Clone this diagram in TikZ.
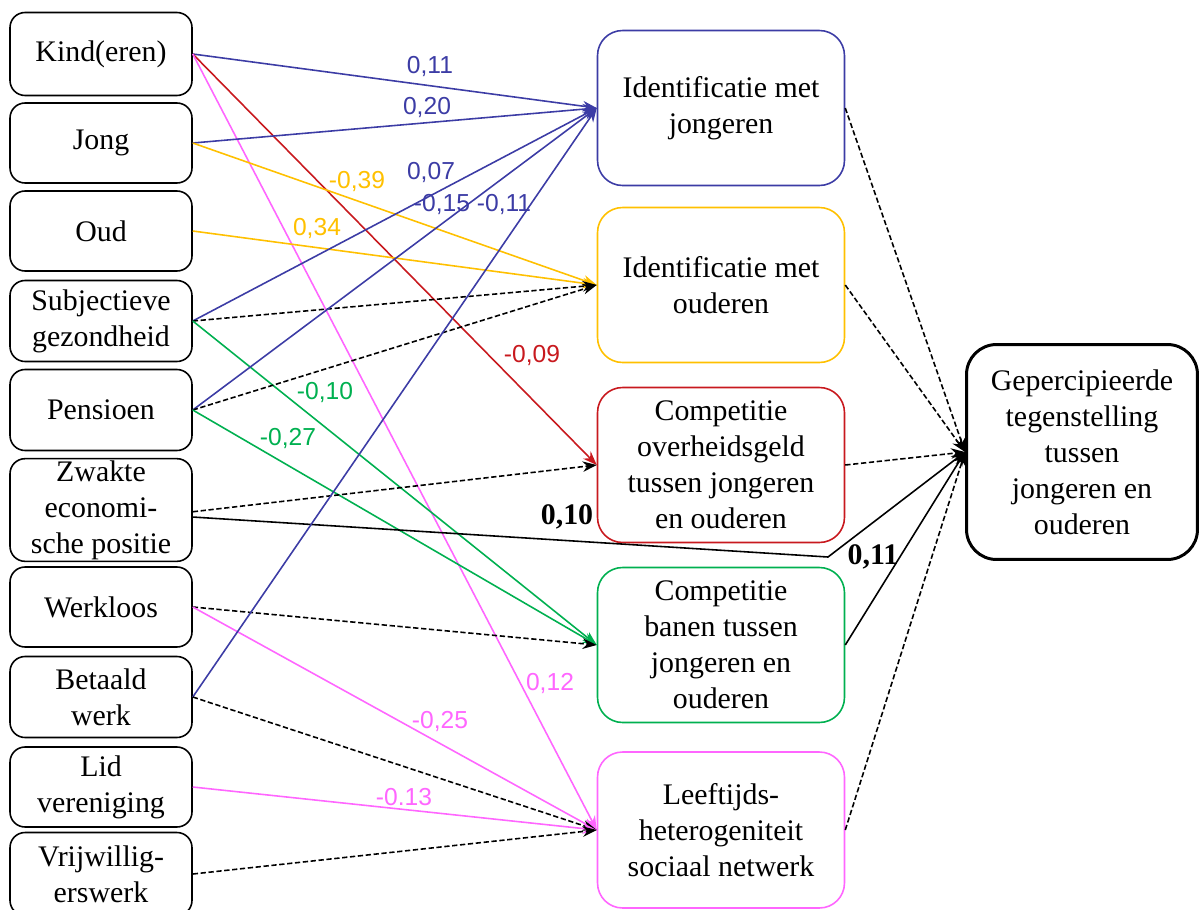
\documentclass[tikz,border=0pt]{standalone}
\usepackage{fontspec}
\setmainfont{Liberation Serif}
\newfontfamily\lblfont{Liberation Sans}
\usetikzlibrary{arrows.meta}
\definecolor{blauw}{RGB}{60,60,165}
\definecolor{geel}{RGB}{255,192,0}
\definecolor{rood}{RGB}{200,25,30}
\definecolor{groen}{RGB}{0,176,80}
\definecolor{roze}{RGB}{255,102,255}
\begin{document}
\begin{tikzpicture}[x=0.02cm,y=-0.02cm,
    every node/.style={font=\fontsize{17}{20.5}\selectfont},
    vak/.style={draw,line width=0.9pt,rounded corners=0.3cm,minimum width=3.64cm,minimum height=1.62cm,align=center,inner sep=1pt},
    midvak/.style={draw,line width=0.9pt,rounded corners=0.5cm,minimum width=4.94cm,minimum height=3.1cm,align=center},
    pijl/.style={-{Stealth[length=8pt,width=6pt]},line width=0.9pt},
    stip/.style={pijl,dash pattern=on 3pt off 1.5pt},
    lbl/.style={font=\lblfont\fontsize{14}{16}\selectfont,inner sep=0pt},
    vet/.style={font=\bfseries\fontsize{17}{20}\selectfont,inner sep=0pt}]
  \useasboundingbox (0,0) rectangle (1201,910);
  \node[vak,minimum height=1.66cm] (kind) at (101,54) {Kind(eren)};
  \node[vak,minimum height=1.6cm] (jong) at (101,143) {Jong};
  \node[vak,minimum height=1.6cm] (oud) at (101,231) {Oud};
  \node[vak] (subj) at (101,321) {Subjectieve\\gezondheid};
  \node[vak] (pens) at (101,410) {Pensioen};
  \node[vak,minimum height=2cm] (zwak) at (101,510) {Zwakte\\economi-\\sche positie};
  \node[vak,minimum height=1.6cm] (werk) at (101,607) {Werkloos};
  \node[vak] (betaald) at (101,697) {Betaald\\werk};
  \node[vak,minimum height=1.6cm] (lid) at (101,787) {Lid\\vereniging};
  \node[vak,minimum height=1.66cm] (vrij) at (101,874) {Vrijwillig-\\erswerk};
  \node[midvak,draw=blauw] (ij) at (721,108) {Identificatie met\\jongeren};
  \node[midvak,draw=geel] (io) at (721,285) {Identificatie met\\ouderen};
  \node[midvak,draw=rood] (cog) at (721,465) {Competitie\\overheidsgeld\\tussen jongeren\\en ouderen};
  \node[midvak,draw=groen] (cba) at (721,645) {Competitie\\banen tussen\\jongeren en\\ouderen};
  \node[midvak,draw=roze,minimum height=3.12cm] (lft) at (721,830) {Leeftijds-\\heterogeniteit\\sociaal netwerk};
  \node[draw,line width=1.7pt,rounded corners=0.6cm,minimum width=4.62cm,minimum height=4.3cm,align=center] (gep) at (1082,452) {Gepercipieerde\\tegenstelling\\tussen\\jongeren en\\ouderen};
  \coordinate (knik) at (828,557);
  \draw[pijl,blauw] (kind.east) -- (ij.west);
  \draw[pijl,rood] (kind.east) -- (cog.west);
  \draw[pijl,roze] (kind.east) -- (lft.west);
  \draw[pijl,blauw] (jong.east) -- (ij.west);
  \draw[pijl,geel] (jong.east) -- (io.west);
  \draw[pijl,geel] (oud.east) -- (io.west);
  \draw[pijl,blauw] (subj.east) -- (ij.west);
  \draw[stip] (subj.east) -- (io.west);
  \draw[pijl,groen] (subj.east) -- (cba.west);
  \draw[pijl,blauw] (pens.east) -- (ij.west);
  \draw[stip] (pens.east) -- (io.west);
  \draw[pijl,groen] (pens.east) -- (cba.west);
  \draw[stip] ([yshift=-1pt]zwak.east) -- (cog.west);
  \draw[pijl] ([yshift=-4pt]zwak.east) -- (knik) -- (gep.west);
  \draw[stip] (werk.east) -- (cba.west);
  \draw[pijl,roze] (werk.east) -- (lft.west);
  \draw[pijl,blauw] (betaald.east) -- (ij.west);
  \draw[stip] (betaald.east) -- (lft.west);
  \draw[pijl,roze] (lid.east) -- (lft.west);
  \draw[stip] (vrij.east) -- (lft.west);
  \foreach \m in {ij,io,cog,lft} \draw[stip] (\m.east) -- (gep.west);
  \draw[pijl] (cba.east) -- (gep.west);
  \node[lbl,text=blauw] (b1) at (430,66) {0,11};
  \node[lbl,text=blauw] (b2) at (427,107) {0,20};
  \node[lbl,text=blauw] (b3) at (431,172) {0,07};
  \node[lbl,text=blauw] (b4) at (442,204) {-0,15};
  \node[lbl,text=blauw] (b5) at (504,204) {-0,11};
  \node[lbl,text=geel] (g1) at (357,181) {-0,39};
  \node[lbl,text=geel] (g2) at (317,228) {0,34};
  \node[lbl,text=rood] (r1) at (532,355) {-0,09};
  \node[lbl,text=groen] (n1) at (325,392) {-0,10};
  \node[lbl,text=groen] (n2) at (288,438) {-0,27};
  \node[lbl,text=roze] (z1) at (550,683) {0,12};
  \node[lbl,text=roze] (z2) at (440,721) {-0,25};
  \node[lbl,text=roze] (z3) at (404,797) {-0.13};
  \node[vet] (k1) at (567,517) {0,10};
  \node[vet] (k2) at (873,557) {0,11};
\end{tikzpicture}
\end{document}
